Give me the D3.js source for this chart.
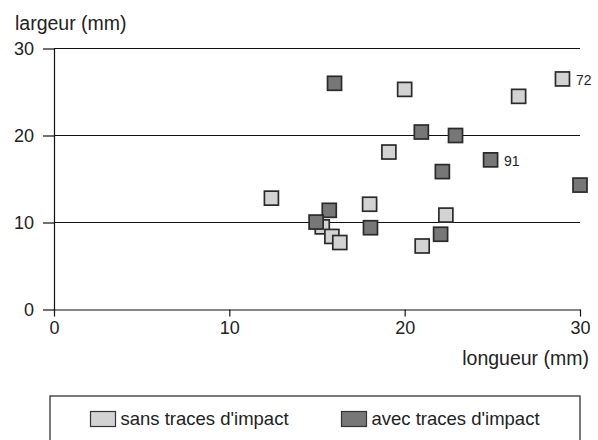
<!DOCTYPE html>
<html>
<head>
<meta charset="utf-8">
<script src="https://cdn.jsdelivr.net/npm/d3@7"></script>
<style>
  body { margin: 0; background: #fff; }
  svg text { font-family: "Liberation Sans", Arial, sans-serif; fill: #222; }
</style>
</head>
<body>
<div id="chart"></div>
<script>
//--------------------------------------------------------------------------------
// data: longueur (x) / largeur (y), in mm
var sansX  = [12.4, 20.0, 26.5, 29.0, 19.1, 18.0, 22.35, 21.0, 15.3, 15.85, 16.3];
var sansY  = [12.8, 25.3, 24.5, 26.5, 18.1, 12.1, 10.85,  7.3,  9.5,  8.4,  7.7];
var sansLabels = ["", "", "", "72", "", "", "", "", "", "", ""];

var avecX  = [16.0, 20.95, 22.9, 24.9, 22.15, 30.0, 15.7, 14.95, 18.05, 22.05];
var avecY  = [26.0, 20.4,  20.0, 17.2, 15.85, 14.3, 11.4, 10.05,  9.4,   8.65];
var avecLabels = ["", "", "", "91", "", "", "", "", "", ""];

var xTicks = [0, 10, 20, 30];
var yTicks = [0, 10, 20, 30];
var gridLines = [10, 20, 30];
var seriesNames = ["sans traces d'impact", "avec traces d'impact"];
var seriesFill = ["#d3d3d3", "#777777"];

//--------------------------------------------------------------------------------
var width = 598, height = 440;
var plotLeft = 54, plotRight = 580, plotTop = 48.5, plotBottom = 309.5;

var svg = d3.select("#chart").append("svg")
    .attr("width", width)
    .attr("height", height);

var xScale = d3.scaleLinear().domain([0, 30]).range([plotLeft, plotRight]);
var yScale = d3.scaleLinear().domain([0, 30]).range([plotBottom, plotTop]);

  // horizontal grid lines
svg.selectAll("line.grid")
   .data(gridLines)
   .enter().append("line")
   .attr("class", "grid")
   .attr("x1", plotLeft).attr("x2", plotRight)
   .attr("y1", function(d){ return yScale(d); })
   .attr("y2", function(d){ return yScale(d); })
   .attr("stroke", "#111").attr("stroke-width", 1.2);

var xAxis = d3.axisBottom(xScale).tickValues(xTicks).tickSize(7).tickSizeOuter(0).tickPadding(4.5);
var yAxis = d3.axisLeft(yScale).tickValues(yTicks).tickSize(11).tickSizeOuter(0).tickPadding(9);

var gx = svg.append("g")
   .attr("transform", "translate(0," + plotBottom + ")")
   .call(xAxis);
var gy = svg.append("g")
   .attr("transform", "translate(" + plotLeft + ",0)")
   .call(yAxis);

[gx, gy].forEach(function(g){
   g.selectAll("path, line").attr("stroke", "#111").attr("stroke-width", 1.2);
   g.selectAll("text").style("font-size", "18px").attr("fill", "#222");
});

svg.append("text")
   .attr("x", 15).attr("y", 29.5)
   .style("font-size", "19.5px")
   .text("largeur (mm)");

svg.append("text")
   .attr("x", 589).attr("y", 365)
   .attr("text-anchor", "end")
   .style("font-size", "19.5px")
   .text("longueur (mm)");

//--------------------------------------------------------------------------------
var size = 14;
function drawSeries(xs, ys, labels, fill) {
   var pts = xs.map(function(x, i){ return {x: x, y: ys[i], label: labels[i]}; });
   svg.append("g").selectAll("rect")
      .data(pts)
      .enter().append("rect")
      .attr("x", function(d){ return xScale(d.x) - size / 2; })
      .attr("y", function(d){ return yScale(d.y) - size / 2; })
      .attr("width", size).attr("height", size)
      .attr("fill", fill)
      .attr("stroke", "#2a2a2a").attr("stroke-width", 1.7);
   svg.append("g").selectAll("text")
      .data(pts.filter(function(d){ return d.label !== ""; }))
      .enter().append("text")
      .attr("x", function(d){ return xScale(d.x) + 13.5; })
      .attr("y", function(d){ return yScale(d.y) + 6.5; })
      .style("font-size", "14px")
      .text(function(d){ return d.label; });
}

  // draw order: light ones first, dark on top
drawSeries(sansX, sansY, sansLabels, seriesFill[0]);
drawSeries(avecX, avecY, avecLabels, seriesFill[1]);

//--------------------------------------------------------------------------------
// legend
svg.append("rect")
   .attr("x", 50).attr("y", 396)
   .attr("width", 530).attr("height", 60)
   .attr("fill", "none").attr("stroke", "#222").attr("stroke-width", 1.2);

var legendX = [90.5, 341.5];
seriesNames.forEach(function(name, i){
   svg.append("rect")
      .attr("x", legendX[i]).attr("y", 411.5)
      .attr("width", 25).attr("height", 15)
      .attr("fill", seriesFill[i])
      .attr("stroke", "#333").attr("stroke-width", 1.2);
   svg.append("text")
      .attr("x", legendX[i] + 30).attr("y", 424.5)
      .style("font-size", "18.5px")
      .text(name);
});
</script>
</body>
</html>
